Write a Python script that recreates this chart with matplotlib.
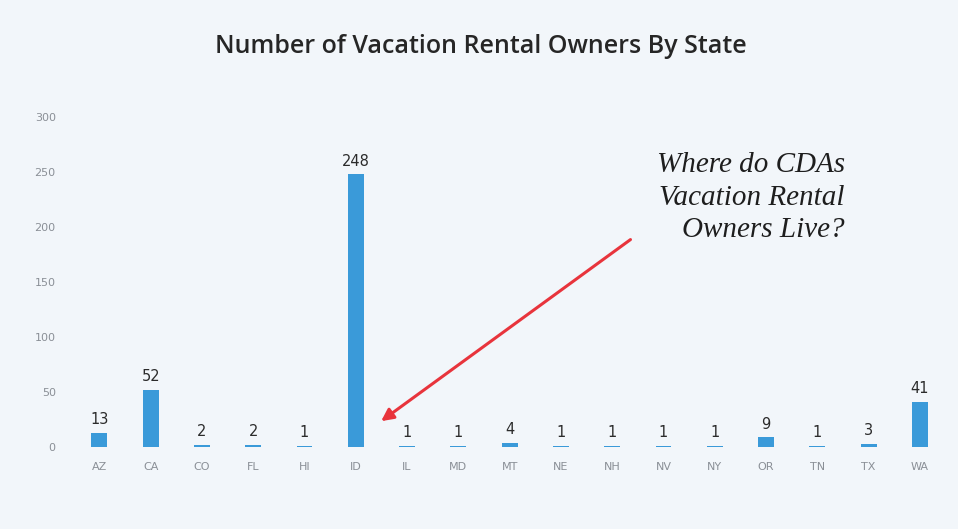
import matplotlib.pyplot as plt

states = ['AZ', 'CA', 'CO', 'FL', 'HI', 'ID', 'IL', 'MD', 'MT', 'NE',
          'NH', 'NV', 'NY', 'OR', 'TN', 'TX', 'WA']
owners = [13, 52, 2, 2, 1, 248, 1, 1, 4, 1, 1, 1, 1, 9, 1, 3, 41]
y_ticks = [0, 50, 100, 150, 200, 250, 300]

bg = '#f2f6fa'
bar_color = '#3a9ad9'

fig = plt.figure(figsize=(9.58, 5.29), dpi=100, facecolor=bg)
ax = fig.add_axes([0.077, 0.155, 0.91, 0.624], facecolor=bg)

x = list(range(len(states)))
bars = ax.bar(x, owners, width=0.31, color=bar_color)

for xi, v in zip(x, owners):
    ax.text(xi, v + 5, str(v), ha='center', va='bottom', fontsize=10.5,
            color='#2b2b2b')

ax.set_xlim(-0.5, len(states) - 0.5)
ax.set_ylim(0, 300)
ax.set_yticks(y_ticks)
ax.set_xticks(x)
ax.set_xticklabels(states)
ax.tick_params(axis='both', length=0, colors='#8a8f96', labelsize=8)
ax.tick_params(axis='x', pad=11)
ax.tick_params(axis='y', pad=13)
for s in ax.spines.values():
    s.set_visible(False)

fig.text(0.502, 0.913, 'Number of Vacation Rental Owners By State',
         ha='center', va='center', fontsize=18, color='#262626',
         family='Open Sans', weight='semibold')

# handwritten style note with red arrow
fig.text(0.882, 0.626, 'Where do CDAs\nVacation Rental\nOwners Live?',
         ha='right', va='center', fontsize=21, style='italic',
         family='Liberation Serif', color='#1e1e1e', linespacing=1.32)
ax.annotate('', xy=(5.45, 22), xytext=(10.4, 190),
            arrowprops=dict(arrowstyle='-|>', color='#e8343c', lw=2.2,
                            mutation_scale=18))

fig.savefig('out.png', dpi=100, facecolor=bg)
